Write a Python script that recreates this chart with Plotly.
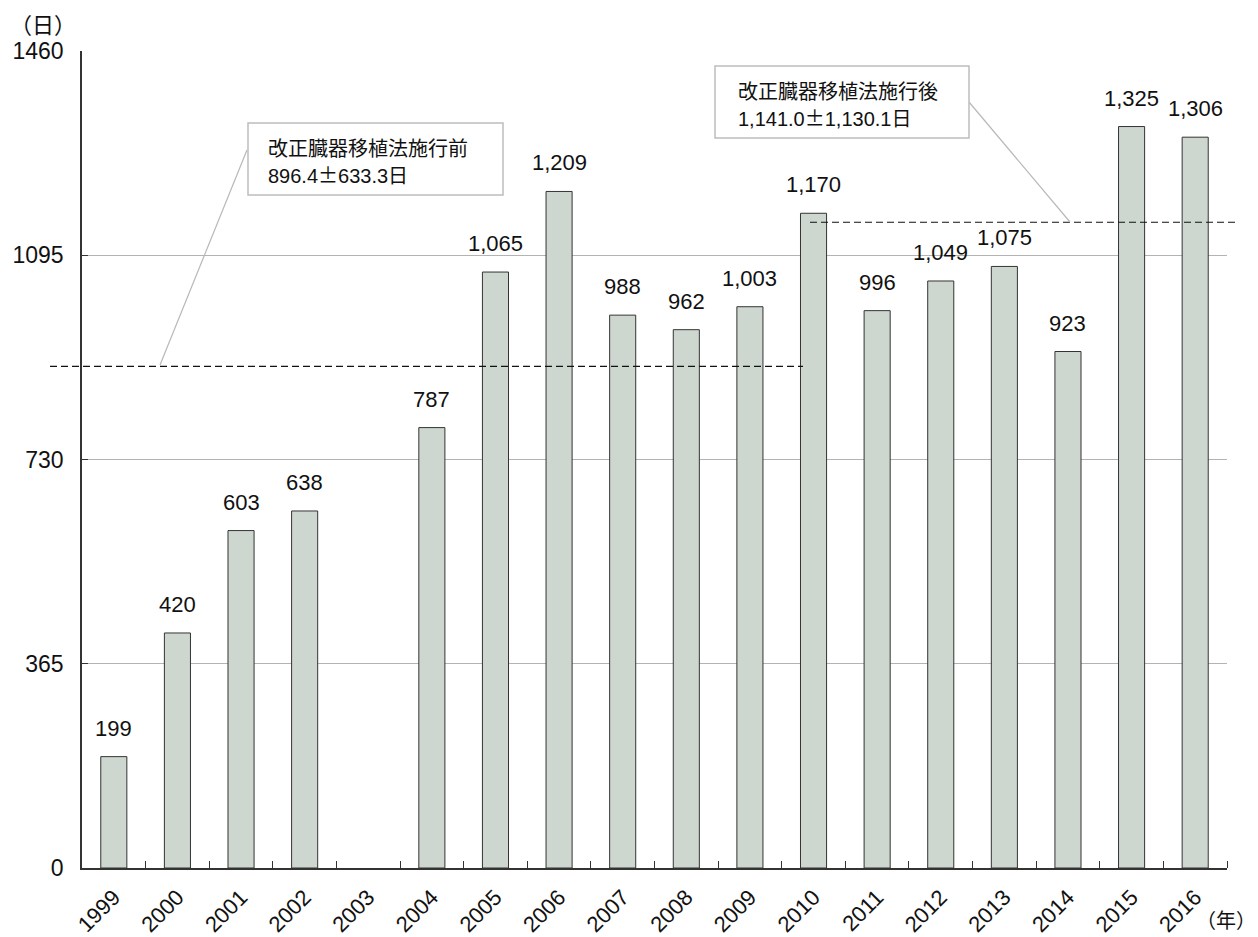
import plotly.graph_objects as go

# ---- data ----
years = ["1999", "2000", "2001", "2002", "2003", "2004", "2005", "2006", "2007",
         "2008", "2009", "2010", "2011", "2012", "2013", "2014", "2015", "2016"]
days = [199, 420, 603, 638, None, 787, 1065, 1209, 988, 962, 1003, 1170,
        996, 1049, 1075, 923, 1325, 1306]
y_ticks = [0, 365, 730, 1095, 1460]
mean_before_level = 896.4    # dashed line level as drawn (before revision)
mean_after_level = 1154.0    # dashed line level as drawn (after revision)
box_before = ["改正臓器移植法施行前", "896.4±633.3日"]
box_after = ["改正臓器移植法施行後", "1,141.0±1,130.1日"]
y_unit = "（日）"
x_unit = "（年）"

# ---- layout geometry (reference pixels) ----
W, H = 1258, 937
L, R, T, B = 82, 1227, 51, 868


def px(x):
    return (x - L) / (R - L)


def py(y):
    return (B - y) / (B - T)


LAT = "Liberation Sans, Arial, Noto Sans CJK JP, sans-serif"
MIX = "Liberation Sans, Noto Sans CJK JP, sans-serif"
CJK = "Noto Sans CJK JP, sans-serif"


def styled(s):
    return s.replace("±", "<span style=\"font-family:'Noto Sans CJK JP'\">±</span>")


idx = list(range(len(years)))

fig = go.Figure()
fig.add_trace(go.Bar(
    x=idx, y=days,
    marker=dict(color="#cdd7cf", line=dict(color="#333333", width=1)),
    hoverinfo="y",
))

annotations = []
for i, v in zip(idx, days):
    if v is None:
        continue
    annotations.append(dict(
        x=i, y=v, xref="x", yref="y", text=f"{v:,}", showarrow=False,
        yanchor="bottom", yshift=14,
        font=dict(family=LAT, size=22, color="#111111"),
    ))

for i, line in enumerate(box_before):
    annotations.append(dict(
        x=px(266), y=py([149, 174][i]), xref="paper", yref="paper",
        text=styled(line), showarrow=False, xanchor="left", yanchor="middle",
        font=dict(family=MIX, size=20, color="#111111"),
    ))
for i, line in enumerate(box_after):
    annotations.append(dict(
        x=px(736), y=py([92, 117][i]), xref="paper", yref="paper",
        text=styled(line), showarrow=False, xanchor="left", yanchor="middle",
        font=dict(family=MIX, size=20, color="#111111"),
    ))

annotations.append(dict(
    x=px(43), y=py(23), xref="paper", yref="paper", text=y_unit,
    showarrow=False, xanchor="center", yanchor="middle",
    font=dict(family=CJK, size=22, color="#111111"),
))
annotations.append(dict(
    x=px(1226), y=py(919), xref="paper", yref="paper", text=x_unit,
    showarrow=False, xanchor="center", yanchor="middle",
    font=dict(family=CJK, size=20, color="#111111"),
))

shapes = [
    dict(type="line", xref="paper", yref="y", x0=px(50), x1=px(803),
         y0=mean_before_level, y1=mean_before_level,
         line=dict(color="#111111", width=1.2, dash="7px,4px"), layer="above"),
    dict(type="line", xref="paper", yref="y", x0=px(810), x1=px(1236),
         y0=mean_after_level, y1=mean_after_level,
         line=dict(color="#111111", width=1.2, dash="7px,4px"), layer="above"),
    dict(type="line", xref="paper", yref="paper", x0=px(160), y0=py(365),
         x1=px(247), y1=py(150), line=dict(color="#b8b8b8", width=1.2)),
    dict(type="line", xref="paper", yref="paper", x0=px(1070), y0=py(222),
         x1=px(969), y1=py(102), line=dict(color="#b8b8b8", width=1.2)),
    dict(type="rect", xref="paper", yref="paper", x0=px(248), x1=px(503),
         y0=py(123), y1=py(195), fillcolor="white",
         line=dict(color="#bdbdbd", width=1.5), layer="above"),
    dict(type="rect", xref="paper", yref="paper", x0=px(715), x1=px(969),
         y0=py(66), y1=py(138), fillcolor="white",
         line=dict(color="#bdbdbd", width=1.5), layer="above"),
]

fig.update_layout(
    width=W, height=H,
    margin=dict(l=L, r=W - R, t=T, b=H - B, autoexpand=False),
    paper_bgcolor="white", plot_bgcolor="white",
    showlegend=False,
    bargap=0.59,
    annotations=annotations,
    shapes=shapes,
    font=dict(family=LAT, color="#111111"),
)
fig.update_xaxes(
    type="linear", range=[-0.5, len(years) - 0.5],
    tickvals=idx, ticktext=years,
    showline=True, linecolor="#333333", linewidth=1.5,
    ticks="", tickangle=-45, tickfont=dict(family=LAT, size=22, color="#111111"),
    ticklabelstandoff=6,
    showgrid=False, zeroline=False, automargin=False,
    minor=dict(tickvals=[i + 0.5 for i in idx], ticks="inside", ticklen=7,
               tickcolor="#333333", tickwidth=1, showgrid=False),
)
fig.update_yaxes(
    range=[0, 1460], tickvals=y_ticks, ticktext=[str(t) for t in y_ticks],
    showline=True, linecolor="#333333", linewidth=1.5,
    ticks="inside", ticklen=6, tickcolor="#333333",
    showgrid=True, gridcolor="#b3b3b3", gridwidth=1, zeroline=False,
    tickfont=dict(family=LAT, size=23, color="#111111"),
    ticklabelstandoff=12, automargin=False,
)

fig.write_html(
    "out.html",
    config={"displayModeBar": False},
    post_script="document.body.style.margin='0';document.body.style.overflow='hidden';",
)
